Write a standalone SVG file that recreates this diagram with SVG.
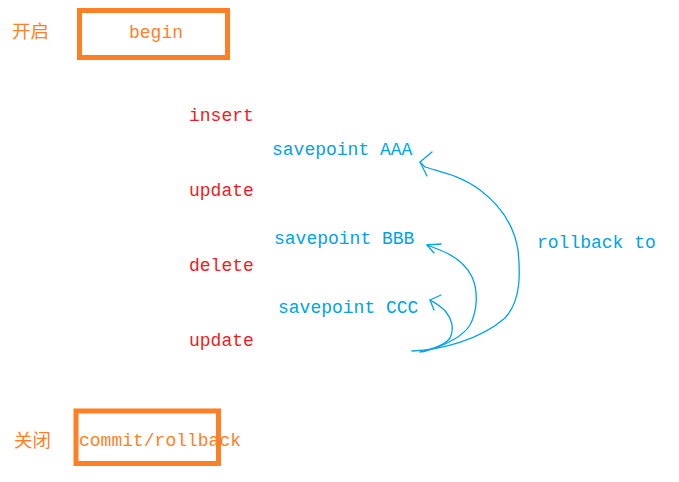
<svg xmlns="http://www.w3.org/2000/svg" width="679" height="482" viewBox="0 0 679 482">
<style>
text{font-family:"Liberation Mono","DejaVu Sans Mono",monospace;font-size:18px}
.cn{font-family:"Noto Sans CJK SC",sans-serif;font-size:18.5px;fill:#FF7F27}
.or{fill:#FF7F27}
.rd{fill:#ED1C24}
.bl{fill:#00A2E8}
.box{fill:none;stroke:#FF7F27;stroke-width:5}
.cv{fill:none;stroke:#00A2E8;stroke-width:1.3;stroke-linecap:round;stroke-linejoin:round}
</style>
<rect width="679" height="482" fill="#fff"/>
<g id="begin">
<text class="cn" x="12" y="38">开启</text>
<rect class="box" x="79.5" y="10.5" width="148" height="47"/>
<text class="or" x="129" y="38">begin</text>
</g>
<g id="insert"><text class="rd" x="189" y="121">insert</text></g>
<g id="savepointAAA"><text class="bl" x="272" y="155">savepoint AAA</text></g>
<g id="update1"><text class="rd" x="189" y="196">update</text></g>
<g id="savepointBBB"><text class="bl" x="274" y="244">savepoint BBB</text></g>
<g id="delete"><text class="rd" x="189" y="271">delete</text></g>
<g id="savepointCCC"><text class="bl" x="278" y="313">savepoint CCC</text></g>
<g id="update2"><text class="rd" x="189" y="346">update</text></g>
<g id="rollbackto"><text class="bl" x="537" y="248">rollback to</text></g>
<g id="commit">
<text class="cn" x="14" y="447">关闭</text>
<rect class="box" x="76" y="411" width="142.5" height="52.5"/>
<text class="or" x="79" y="446">commit/rollback</text>
</g>
<g id="connectors">
<path class="cv" d="M412,351 C440,350 480,340 505,318 C522,300 520,270 518,250 C514,225 500,205 480,190 C460,175 440,172 425,167 L420,162"/>
<path class="cv" d="M432,152 L420,162 L427,176"/>
<path class="cv" d="M423,352 C440,347 462,338 470,325 C478,310 478,290 472,277 C465,262 450,254 440,250 L427,245"/>
<path class="cv" d="M441,244 L427,245 L434,253"/>
<path class="cv" d="M420,352 C435,348 445,345 450,338 C455,328 451,318 446,312 C440,305 435,303 430,300"/>
<path class="cv" d="M441,295 L430,300 L434,310"/>
</g>
</svg>
